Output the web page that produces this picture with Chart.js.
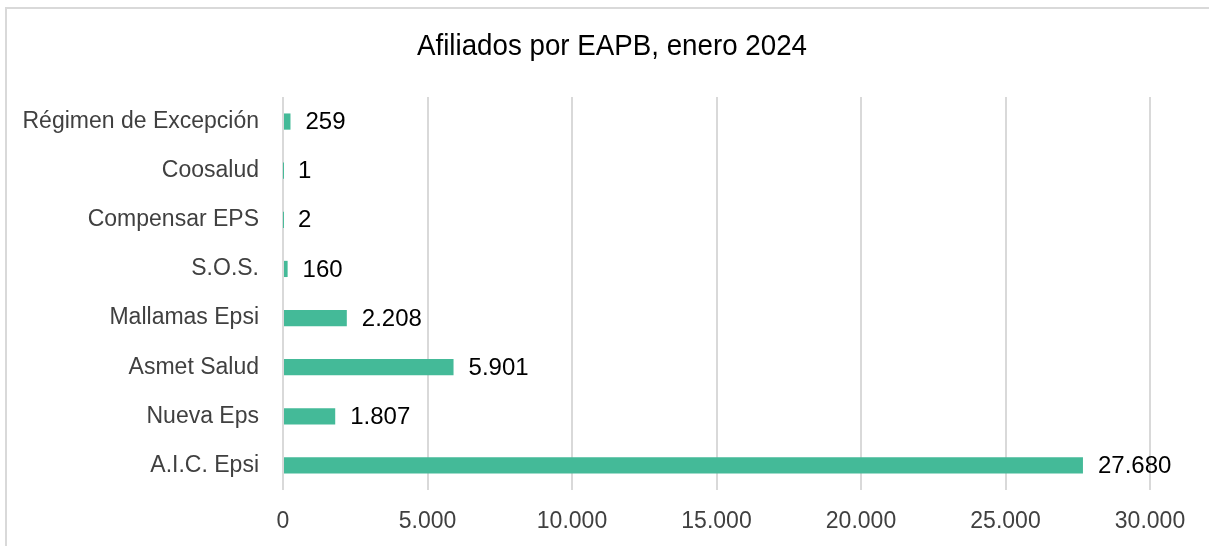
<!DOCTYPE html>
<html>
<head>
<meta charset="utf-8">
<script src="https://cdn.jsdelivr.net/npm/chart.js@4.4.1/dist/chart.umd.min.js"></script>
<style>
  html, body { margin: 0; padding: 0; background: #ffffff; overflow: hidden; }
  #frame { position: absolute; left: 5px; top: 7px; width: 1400px; height: 700px; border: 2px solid #d9d9d9; box-sizing: border-box; }
  #wrap { position: absolute; left: 0; top: 0; width: 1209px; height: 546px; }
</style>
</head>
<body>
<div id="frame"></div>
<div id="wrap"><canvas id="c" width="1209" height="546"></canvas></div>
<script>
const categories = ["Régimen de Excepción", "Coosalud", "Compensar EPS", "S.O.S.", "Mallamas Epsi", "Asmet Salud", "Nueva Eps", "A.I.C. Epsi"];
const afiliados = [259, 1, 2, 160, 2208, 5901, 1807, 27680];
const xTicks = [0, 5000, 10000, 15000, 20000, 25000, 30000];
const chartTitle = "Afiliados por EAPB, enero 2024";

function fmt(v) {
  return String(Math.round(v)).replace(/\B(?=(\d{3})+(?!\d))/g, ".");
}

const valueLabels = {
  id: 'valueLabels',
  afterDatasetsDraw(chart) {
    const ctx = chart.ctx;
    const meta = chart.getDatasetMeta(0);
    ctx.save();
    ctx.font = '24px "Liberation Sans", Arial, sans-serif';
    ctx.fillStyle = '#000000';
    ctx.textAlign = 'left';
    ctx.textBaseline = 'middle';
    meta.data.forEach((bar, i) => {
      ctx.fillText(fmt(chart.data.datasets[0].data[i]), bar.x + 15, bar.y + 1);
    });
    ctx.restore();
  }
};

const narrowTitle = {
  id: 'narrowTitle',
  afterDraw(chart) {
    const ctx = chart.ctx;
    ctx.save();
    ctx.font = '29px "Liberation Sans", Arial, sans-serif';
    const w = ctx.measureText(chartTitle).width;
    const sx = 390 / w;
    ctx.translate(612, 47);
    ctx.scale(sx, 1);
    ctx.fillStyle = '#000000';
    ctx.textAlign = 'center';
    ctx.textBaseline = 'middle';
    ctx.fillText(chartTitle, 0, 0);
    ctx.restore();
  }
};

new Chart(document.getElementById('c'), {
  type: 'bar',
  data: {
    labels: categories,
    datasets: [{
      data: afiliados,
      backgroundColor: '#44BA98',
      borderWidth: 0,
      categoryPercentage: 1,
      barPercentage: 0.33
    }]
  },
  options: {
    indexAxis: 'y',
    responsive: false,
    animation: false,
    devicePixelRatio: 1,
    layout: { padding: { left: 0, right: 59, top: 97, bottom: 11 } },
    plugins: {
      legend: { display: false },
      tooltip: { enabled: false },
      title: { display: false }
    },
    scales: {
      x: {
        min: 0,
        max: 30000,
        afterBuildTicks(scale) { scale.ticks = xTicks.map(v => ({ value: v })); },
        afterFit(scale) { scale.height = 45; },
        grid: { color: '#d9d9d9', lineWidth: 2, drawTicks: false },
        border: { display: false },
        ticks: {
          color: '#404040',
          font: { family: '"Liberation Sans", Arial, sans-serif', size: 23 },
          padding: 18,
          callback: (v) => fmt(v)
        }
      },
      y: {
        afterFit(scale) { scale.width = 283; },
        grid: { display: false, drawTicks: false },
        border: { display: false },
        ticks: {
          color: '#404040',
          font: { family: '"Liberation Sans", Arial, sans-serif', size: 23 },
          padding: 24
        }
      }
    }
  },
  plugins: [valueLabels, narrowTitle]
});
</script>
</body>
</html>
